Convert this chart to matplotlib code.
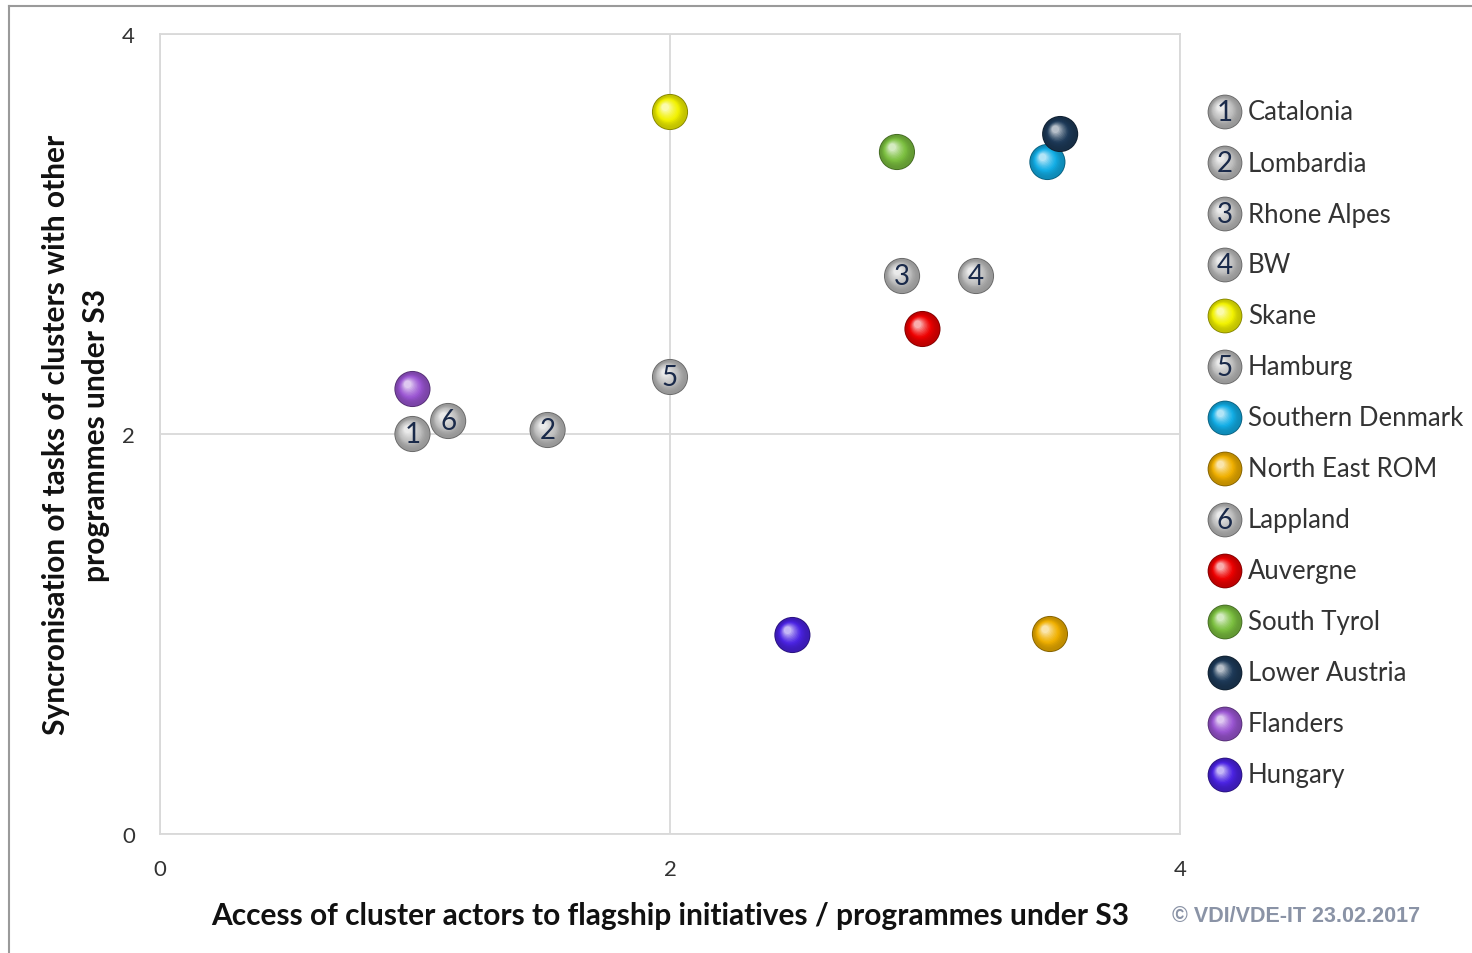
import matplotlib
matplotlib.use("Agg")
import matplotlib.pyplot as plt
import matplotlib.transforms as mtrans
from matplotlib.lines import Line2D
import matplotlib.colors as mcolors
import numpy as np

plt.rcParams['font.family'] = ['Lato', 'DejaVu Sans']

regions = ["Catalonia", "Lombardia", "Rhone Alpes", "BW", "Skane", "Hamburg",
           "Southern Denmark", "North East ROM", "Lappland", "Auvergne",
           "South Tyrol", "Lower Austria", "Flanders", "Hungary"]
x_access = [0.99, 1.52, 2.91, 3.20, 2.00, 2.00, 3.48, 3.49, 1.13, 2.99, 2.89, 3.53, 0.99, 2.48]
y_sync = [2.00, 2.02, 2.79, 2.79, 3.61, 2.285, 3.36, 1.00, 2.065, 2.525, 3.41, 3.50, 2.225, 0.995]
numbers = ["1", "2", "3", "4", "", "5", "", "", "6", "", "", "", "", ""]
colors = ["#bdbdbd", "#bdbdbd", "#bdbdbd", "#bdbdbd", "#f2f200", "#bdbdbd",
          "#12aee6", "#f0b000", "#bdbdbd", "#ee0000", "#7cc040", "#1d3a58",
          "#9a55d2", "#4a22e2"]

x_ticks = [0, 2, 4]
y_ticks = [0, 2, 4]
x_label = "Access of cluster actors to flagship initiatives / programmes under S3"
y_label = "Syncronisation of tasks of clusters with other\nprogrammes under S3"
credit = "© VDI/VDE-IT 23.02.2017"

W, H = 1472, 954
fig = plt.figure(figsize=(W / 100, H / 100), dpi=100)
ax = fig.add_axes([160 / W, 1 - 835 / H, 1020 / W, 800 / H])
ax.set_xlim(0, 4)
ax.set_ylim(0, 4)
ax.set_xticks(x_ticks)
ax.set_yticks(y_ticks)
ax.tick_params(length=0, labelsize=16, labelcolor="#333333", pad=18)
for sp in ax.spines.values():
    sp.set_color("#d9d9d9")
    sp.set_linewidth(1.3)
ax.grid(True, color="#d9d9d9", linewidth=1.3)
ax.set_axisbelow(True)


def shade(c, f):
    r = np.array(mcolors.to_rgb(c))
    if f >= 0:
        return tuple(r + (1 - r) * f)
    return tuple(r * (1 + f))


def sphere(axis, xs, ys, color, diam_pt, trans_base, z):
    n = 14
    R = diam_pt / 2.0
    axis.scatter(xs, ys, s=diam_pt ** 2, color=shade(color, -0.45), edgecolors="none",
                 zorder=z, transform=trans_base)
    for k in range(n):
        t = k / n
        d = diam_pt * (0.95 - 0.8 * t)
        off = t * 0.28 * R / 72.0
        tr = trans_base + mtrans.ScaledTranslation(-off, off, fig.dpi_scale_trans)
        f = -0.2 + 1.0 * t ** 1.8
        axis.scatter(xs, ys, s=d ** 2, color=shade(color, min(f, 0.85)), edgecolors="none",
                     zorder=z + 0.01 * (k + 1), transform=tr)


diam = 26
for i in range(len(regions)):
    z = 3 + i
    sphere(ax, [x_access[i]], [y_sync[i]], colors[i], diam, ax.transData, z)
    if numbers[i]:
        ax.text(x_access[i], y_sync[i], numbers[i], ha="center", va="center",
                fontsize=20, color="#1a2a4a", zorder=z + 0.5)

lax = fig.add_axes([0, 0, 1, 1], zorder=5)
lax.set_xlim(0, W)
lax.set_ylim(H, 0)
lax.axis("off")
ly0, lstep = 113, 51.0
for i, name in enumerate(regions):
    yy = ly0 + i * lstep
    sphere(lax, [1225], [yy], colors[i], 25, lax.transData, 3 + i)
    if numbers[i]:
        lax.text(1225, yy, numbers[i], ha="center", va="center", fontsize=20,
                 color="#1a2a4a", zorder=4 + i)
    lax.text(1248, yy, name, ha="left", va="center", fontsize=18.5, color="#333333", zorder=20)

fig.text(670 / W, 1 - 916 / H, x_label, ha="center", va="center", fontsize=21.5,
         fontweight="bold", color="#111111")
fig.text(76 / W, 1 - 435 / H, y_label, ha="center", va="center", fontsize=21.5,
         fontweight="bold", color="#111111", rotation=90, linespacing=1.5)
fig.text(1172 / W, 1 - 917 / H, credit, ha="left", va="center", fontsize=15.5,
         fontweight="bold", color="#8a93a6", family=["Liberation Sans", "DejaVu Sans"])

fig.add_artist(Line2D([9 / W, 9 / W], [0, 1 - 7 / H], color="#9a9a9a", linewidth=1.5,
                      transform=fig.transFigure))
fig.add_artist(Line2D([9 / W, 1], [1 - 7 / H, 1 - 7 / H], color="#9a9a9a", linewidth=1.5,
                      transform=fig.transFigure))

fig.savefig("out.png", dpi=100, facecolor="white")
